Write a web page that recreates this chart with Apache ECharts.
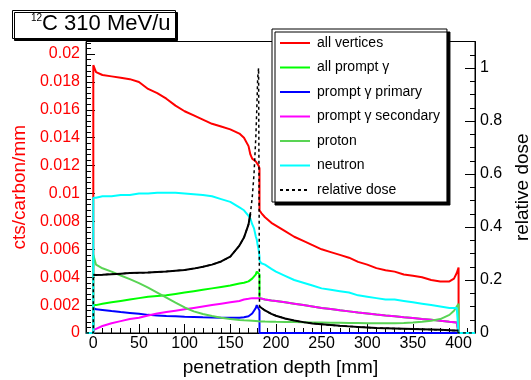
<!DOCTYPE html>
<html><head><meta charset="utf-8">
<script src="https://cdn.jsdelivr.net/npm/echarts@6/dist/echarts.min.js"></script>
<style>html,body{margin:0;padding:0;background:#fff}#c{width:531px;height:380px}</style>
</head><body><div id="c"></div>
<script>
// penetration depth [mm] sampling points
const depth = [
  -8, 0, 0, 3,
  10, 20, 30, 40, 50, 60, 70, 80, 90, 100, 110, 120, 130, 140, 150, 160,
  165, 170, 172, 174, 176, 178, 179, 180, 181, 182,
  182, 184, 188, 195, 200,
  210, 220, 230, 240, 250, 260, 270, 280, 290, 300, 310, 320, 330, 340, 350, 360, 370, 380, 390,
  395, 398, 400, 400, 418
];
const allVertices = [
  0, 0, 0.0192, 0.0187,
  0.0185, 0.0184, 0.0183, 0.0182, 0.0180, 0.0175, 0.0172, 0.0168, 0.0163, 0.0159, 0.0156, 0.0153, 0.0150, 0.0148, 0.0146, 0.0143,
  0.0140, 0.0134, 0.0128, 0.0125, 0.0124, 0.0123, 0.0123, 0.0122, 0.0120, 0.0118,
  0.0088, 0.0086, 0.0083, 0.0079, 0.0077,
  0.0073, 0.0069, 0.0066, 0.0063, 0.0060, 0.0058, 0.0056, 0.0054, 0.0051, 0.0049, 0.00465, 0.0045, 0.0044, 0.0042, 0.0041, 0.0040, 0.0038, 0.0037, 0.0037,
  0.0039, 0.0043, 0.0047, 0, 0
];
const allPromptGamma = [
  0, 0, 0.0020, 0.0020,
  0.0021, 0.0022, 0.0023, 0.0024, 0.0025, 0.0026, 0.00265, 0.0027, 0.0028, 0.0029, 0.0030, 0.0031, 0.0032, 0.0033, 0.0034, 0.00355,
  0.0036, 0.0037, 0.0038, 0.0039, 0.0040, 0.0042, 0.0044, 0.0045, 0.0044, 0.0042,
  0.0025, 0.00247, 0.0024, 0.00233, 0.0023,
  0.0022, 0.0021, 0.0020, 0.0019, 0.0018, 0.00172, 0.00163, 0.00155, 0.00147, 0.0014, 0.00132, 0.00125, 0.0012, 0.00113, 0.00107, 0.0010, 0.00095, 0.00088, 0.0008,
  0.00077, 0.00075, 0.00075, 0, 0
];
const promptGammaPrimary = [
  0, 0, 0.0018, 0.0017,
  0.00165, 0.00157, 0.0015, 0.00144, 0.00138, 0.0013, 0.00126, 0.00122, 0.0012, 0.00117, 0.00115, 0.00113, 0.00112, 0.0011, 0.0011, 0.0011,
  0.00113, 0.0012, 0.0013, 0.0014, 0.0016, 0.0018, 0.0020, 0.0021, 0.0019, 0.0016,
  0, 0, 0, 0, 0,
  0, 0, 0, 0, 0, 0, 0, 0, 0, 0, 0, 0, 0, 0, 0, 0, 0, 0, 0,
  0, 0, 0, 0, 0
];
const promptGammaSecondary = [
  0, 0, 0.0002, 0.0003,
  0.0005, 0.0007, 0.00085, 0.0010, 0.0011, 0.00125, 0.0014, 0.0015, 0.0016, 0.0017, 0.0018, 0.0019, 0.0020, 0.0021, 0.0022, 0.0023,
  0.0024, 0.00245, 0.00248, 0.0025, 0.0025, 0.0025, 0.0025, 0.0025, 0.0025, 0.0025,
  0.0025, 0.00247, 0.0024, 0.00233, 0.0023,
  0.0022, 0.0021, 0.0020, 0.0019, 0.0018, 0.00172, 0.00163, 0.00155, 0.00147, 0.0014, 0.00132, 0.00125, 0.0012, 0.00113, 0.00107, 0.0010, 0.00095, 0.00088, 0.0008,
  0.00077, 0.00075, 0.00075, 0, 0
];
const proton = [
  0, 0, 0.0056, 0.0049,
  0.00464, 0.0044, 0.00412, 0.00386, 0.00358, 0.00325, 0.0029, 0.00254, 0.00218, 0.00183, 0.00155, 0.00136, 0.00122, 0.0011, 0.0010, 0.00093,
  0.00091, 0.0009, 0.00089, 0.00088, 0.00087, 0.00086, 0.00085, 0.00085, 0.00084, 0.00083,
  0.00083, 0.00083, 0.00082, 0.00081, 0.0008,
  0.00079, 0.00078, 0.00077, 0.00076, 0.00075, 0.00074, 0.00073, 0.00072, 0.00071, 0.0007, 0.0007, 0.0007, 0.0007, 0.00072, 0.00075, 0.0008, 0.00088, 0.0010, 0.0013,
  0.0016, 0.0019, 0.0021, 0, 0
];
const neutron = [
  0, 0, 0.0097, 0.0097,
  0.0098, 0.0098, 0.0099, 0.0099, 0.0100, 0.0100, 0.01005, 0.01006, 0.01005, 0.0100, 0.00995, 0.0099, 0.0098, 0.0096, 0.0094, 0.0090,
  0.0088, 0.0084, 0.0082, 0.0078, 0.0075, 0.0069, 0.0067, 0.0063, 0.0060, 0.0055,
  0.0052, 0.0050, 0.0049, 0.0046, 0.0044,
  0.0041, 0.0038, 0.0036, 0.0034, 0.0032, 0.0031, 0.0030, 0.0029, 0.0027, 0.0026, 0.0025, 0.0024, 0.0024, 0.0023, 0.0022, 0.0021, 0.0020, 0.0019, 0.0018,
  0.0018, 0.0018, 0.0018, 0, 0
];
// relative dose (right axis)
const relativeDose = [
  0, 0, 0.22, 0.219,
  0.22, 0.222, 0.224, 0.226, 0.227, 0.228, 0.23, 0.232, 0.235, 0.238, 0.243, 0.25, 0.258, 0.27, 0.288, 0.33,
  0.36, 0.41, 0.45, 0.51, 0.6, 0.74, 0.84, 0.96, 1.0, 0.1,
  0.1, 0.095, 0.085, 0.072, 0.065,
  0.055, 0.047, 0.041, 0.036, 0.033, 0.03, 0.027, 0.025, 0.023, 0.021, 0.019, 0.018, 0.017, 0.016, 0.015, 0.014, 0.013, 0.012, 0.01,
  0.009, 0.009, 0.009, 0, 0
];
// part of the dose histogram that renders as a solid line (fine bins)
const relativeDoseSolid = [
  null, null, 0.22, 0.219,
  0.22, 0.222, 0.224, 0.226, 0.227, 0.228, 0.23, 0.232, 0.235, 0.238, 0.243, 0.25, 0.258, 0.27, 0.288, 0.33,
  0.36, 0.41, 0.45, null, null, null, null, null, null, null,
  0.1, 0.095, 0.085, 0.072, 0.065,
  0.055, 0.047, 0.041, 0.036, 0.033, 0.03, 0.027, 0.025, 0.023, 0.021, 0.019, 0.018, 0.017, 0.016, 0.015, 0.014, 0.013, 0.012, 0.01,
  0.009, 0.009, 0.009, null, null
];

const xTickLabels = [0, 50, 100, 150, 200, 250, 300, 350, 400];
const xMinorTicks = [0, 10, 20, 30, 40, 50, 60, 70, 80, 90, 100, 110, 120, 130, 140, 150, 160, 170, 180, 190, 200,
  210, 220, 230, 240, 250, 260, 270, 280, 290, 300, 310, 320, 330, 340, 350, 360, 370, 380, 390, 400, 410];
const leftTickLabels = [0, 0.002, 0.004, 0.006, 0.008, 0.01, 0.012, 0.014, 0.016, 0.018, 0.02];
const leftMinorTicks = [];
for (let k = 0; k <= 52; k++) leftMinorTicks.push(Math.round(k * 4) / 10000);
const rightTickLabels = [0, 0.2, 0.4, 0.6, 0.8, 1];
const rightMinorTicks = [];
for (let k = 0; k <= 22; k++) rightMinorTicks.push(Math.round(k * 5) / 100);

const FONT = '"Liberation Sans", Arial, Helvetica, sans-serif';
const X_MIN = -8, X_MAX = 418, YL_MAX = 0.0209, YR_MAX = 1.1;

function pts(arr) { return depth.map((d, i) => [d, arr[i]]); }
function lineSeries(name, arr, color, yIdx, extra) {
  return Object.assign({
    name: name, type: 'line', data: pts(arr), xAxisIndex: 0, yAxisIndex: yIdx,
    symbol: 'none', showSymbol: false, connectNulls: false, animation: false,
    lineStyle: { color: color, width: 2 }, itemStyle: { color: color }
  }, extra || {});
}

const chart = echarts.init(document.getElementById('c'), null, { renderer: 'canvas' });
chart.setOption({
  animation: false,
  backgroundColor: '#fff',
  title: {
    text: '{sup|12}C 310 MeV/u',
    left: 12, top: 10,
    padding: [3, 5, 4, 19],
    backgroundColor: '#fff', borderColor: '#000', borderWidth: 1,
    shadowColor: '#000', shadowOffsetX: 2, shadowOffsetY: 2, shadowBlur: 0,
    textStyle: {
      fontFamily: FONT, fontSize: 22, fontWeight: 'normal', color: '#000', lineHeight: 22,
      rich: { sup: { fontFamily: FONT, fontSize: 10, lineHeight: 12, verticalAlign: 'top', color: '#000' } }
    }
  },
  legend: {
    data: ['all vertices', 'all prompt γ', 'prompt γ primary', 'prompt γ secondary', 'proton', 'neutron', 'relative dose'],
    orient: 'vertical', left: 272, top: 29,
    itemWidth: 30, itemHeight: 14, itemGap: 10.5,
    padding: [7, 7, 5, 7],
    backgroundColor: '#fff', borderColor: '#000', borderWidth: 1, borderRadius: 0,
    shadowColor: '#000', shadowOffsetX: 3, shadowOffsetY: 3, shadowBlur: 0,
    selectedMode: false,
    itemStyle: { opacity: 0 },
    textStyle: { fontFamily: FONT, fontSize: 14, color: '#000', padding: [0, 0, 0, 2] }
  },
  grid: {
    left: 86, right: 56, top: 41.5, bottom: 47,
    show: true, borderColor: '#000', borderWidth: 1, backgroundColor: 'transparent',
    containLabel: false, outerBoundsMode: 'none'
  },
  xAxis: [
    {
      type: 'value', min: X_MIN, max: X_MAX, position: 'bottom', gridIndex: 0,
      axisLine: { show: true, onZero: false, lineStyle: { color: '#000', width: 1 } },
      axisTick: { show: true, inside: true, length: 9, customValues: xTickLabels, lineStyle: { color: '#000' } },
      axisLabel: { customValues: xTickLabels, color: '#000', fontFamily: FONT, fontSize: 16, margin: 3 },
      splitLine: { show: false },
      name: 'penetration depth [mm]', nameLocation: 'middle', nameGap: 25,
      nameTextStyle: { fontFamily: FONT, fontSize: 19, color: '#000' }
    },
    {
      type: 'value', min: X_MIN, max: X_MAX, position: 'bottom', gridIndex: 0,
      axisLine: { show: false, onZero: false },
      axisTick: { show: true, inside: true, length: 5, customValues: xMinorTicks, lineStyle: { color: '#000' } },
      axisLabel: { show: false }, splitLine: { show: false }
    }
  ],
  yAxis: [
    {
      type: 'value', min: 0, max: YL_MAX, position: 'left', gridIndex: 0,
      axisLine: { show: true, onZero: false, lineStyle: { color: '#000', width: 1 } },
      axisTick: { show: true, inside: true, length: 9, customValues: leftTickLabels, lineStyle: { color: '#000' } },
      axisLabel: { customValues: leftTickLabels, color: '#ff0000', fontFamily: FONT, fontSize: 16, margin: 6 },
      splitLine: { show: false },
      name: 'cts/carbon/mm', nameLocation: 'middle', nameRotate: 90, nameGap: 55,
      nameTextStyle: { fontFamily: FONT, fontSize: 19, color: '#ff0000' }
    },
    {
      type: 'value', min: 0, max: YR_MAX, position: 'right', gridIndex: 0,
      axisLine: { show: true, onZero: false, lineStyle: { color: '#000', width: 1 } },
      axisTick: { show: true, inside: true, length: 10, customValues: rightTickLabels, lineStyle: { color: '#000' } },
      axisLabel: { customValues: rightTickLabels, color: '#000', fontFamily: FONT, fontSize: 16, margin: 5 },
      splitLine: { show: false },
      name: 'relative dose', nameLocation: 'middle', nameRotate: 90, nameGap: 35,
      nameTextStyle: { fontFamily: FONT, fontSize: 19, color: '#000' }
    },
    {
      type: 'value', min: 0, max: YL_MAX, position: 'left', gridIndex: 0,
      axisLine: { show: false, onZero: false },
      axisTick: { show: true, inside: true, length: 5, customValues: leftMinorTicks, lineStyle: { color: '#000' } },
      axisLabel: { show: false }, splitLine: { show: false }
    },
    {
      type: 'value', min: 0, max: YR_MAX, position: 'right', gridIndex: 0,
      axisLine: { show: false, onZero: false },
      axisTick: { show: true, inside: true, length: 5, customValues: rightMinorTicks, lineStyle: { color: '#000' } },
      axisLabel: { show: false }, splitLine: { show: false }
    }
  ],
  series: [
    lineSeries('all vertices', allVertices, '#ff0000', 0),
    lineSeries('all prompt γ', allPromptGamma, '#00ff00', 0),
    lineSeries('prompt γ primary', promptGammaPrimary, '#0000ff', 0),
    lineSeries('prompt γ secondary', promptGammaSecondary, '#ff00ff', 0),
    lineSeries('proton', proton, '#59d454', 0),
    lineSeries('neutron', neutron, '#00ffff', 0),
    lineSeries('dose (solid part)', relativeDoseSolid, '#000000', 1, { lineStyle: { color: '#000', width: 2 } }),
    lineSeries('relative dose', relativeDose, '#000000', 1, { lineStyle: { color: '#000', width: 1.5, type: [3, 3] } })
  ]
});
</script>
</body></html>
